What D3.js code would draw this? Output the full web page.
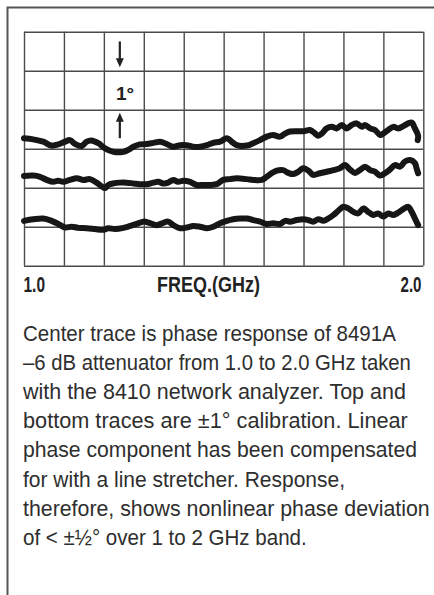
<!DOCTYPE html>
<html>
<head>
<meta charset="utf-8">
<script src="https://cdn.jsdelivr.net/npm/d3@7"></script>
<style>
  html, body { margin: 0; padding: 0; background: #fff; }
  svg { display: block; }
</style>
</head>
<body>
<svg id="chart" width="434" height="595"></svg>
<script>
// ---- data ----
const freqDomain = [1.0, 2.0];          // GHz
const phaseDomain = [0, 6];             // degrees (1 division = 1°)
const xGridTicks = d3.range(0, 11).map(i => 1 + i / 10);
const yGridTicks = d3.range(0, 7);
const xTickLabels = ["1.0", "2.0"];
const xAxisTitle = "FREQ.(GHz)";
const scaleLabel = "1°";

const topFreq = [1.000,1.023,1.048,1.069,1.086,1.103,1.115,1.128,1.144,1.157,1.169,1.186,1.203,1.224,1.249,1.261,1.274,1.290,1.307,1.324,1.341,1.357,1.374,1.391,1.407,1.424,1.441,1.458,1.474,1.491,1.508,1.520,1.533,1.558,1.574,1.591,1.608,1.624,1.641,1.654,1.666,1.683,1.700,1.716,1.729,1.737,1.746,1.758,1.771,1.783,1.796,1.808,1.821,1.833,1.846,1.854,1.867,1.879,1.892,1.900,1.912,1.925,1.937,1.950,1.962,1.971,1.979,1.983,1.987,1.986];
const topPhase = [3.27,3.24,3.18,3.08,3.11,3.18,3.22,3.12,3.07,3.18,3.21,3.14,3.01,2.92,2.92,2.97,3.05,3.11,3.12,3.15,3.18,3.12,3.05,3.09,3.09,3.05,3.05,3.09,3.15,3.18,3.27,3.18,3.09,3.08,3.14,3.22,3.31,3.35,3.31,3.39,3.44,3.45,3.45,3.48,3.39,3.33,3.39,3.52,3.56,3.52,3.61,3.52,3.61,3.65,3.56,3.61,3.52,3.48,3.35,3.39,3.48,3.56,3.52,3.58,3.65,3.67,3.52,3.44,3.33,3.22];

const midFreq = [1.000,1.023,1.040,1.057,1.073,1.086,1.098,1.115,1.132,1.149,1.165,1.182,1.195,1.203,1.211,1.224,1.240,1.257,1.274,1.290,1.307,1.324,1.336,1.349,1.361,1.374,1.386,1.399,1.416,1.432,1.449,1.466,1.482,1.499,1.516,1.533,1.558,1.574,1.595,1.608,1.620,1.633,1.649,1.662,1.674,1.687,1.699,1.712,1.724,1.741,1.758,1.775,1.791,1.804,1.816,1.829,1.841,1.854,1.867,1.879,1.892,1.904,1.917,1.929,1.942,1.954,1.967,1.979,1.983,1.987];
const midPhase = [2.30,2.31,2.28,2.20,2.15,2.18,2.15,2.20,2.24,2.20,2.22,2.13,2.03,1.99,2.07,2.11,2.13,2.13,2.11,2.09,2.09,2.13,2.15,2.11,2.13,2.20,2.15,2.18,2.15,2.07,2.07,2.07,2.09,2.20,2.22,2.24,2.22,2.20,2.20,2.28,2.37,2.44,2.45,2.38,2.35,2.41,2.50,2.44,2.33,2.37,2.41,2.45,2.50,2.58,2.47,2.38,2.45,2.54,2.45,2.41,2.31,2.37,2.47,2.58,2.54,2.67,2.71,2.63,2.50,2.37];

const botFreq = [1.000,1.023,1.048,1.069,1.086,1.103,1.119,1.136,1.157,1.178,1.199,1.211,1.228,1.249,1.266,1.282,1.299,1.316,1.332,1.349,1.361,1.374,1.391,1.407,1.424,1.441,1.458,1.474,1.491,1.508,1.524,1.541,1.558,1.574,1.591,1.608,1.624,1.641,1.654,1.666,1.683,1.700,1.712,1.724,1.737,1.750,1.762,1.775,1.787,1.800,1.812,1.825,1.837,1.850,1.862,1.875,1.887,1.900,1.912,1.925,1.937,1.950,1.962,1.971,1.979,1.987];
const botPhase = [1.15,1.19,1.21,1.15,1.07,0.98,1.00,0.97,0.96,0.94,0.92,0.96,0.94,0.97,1.02,1.07,1.13,1.09,1.04,1.10,1.13,1.04,0.96,0.98,1.02,1.00,0.96,1.00,1.09,1.15,1.19,1.21,1.21,1.17,1.13,1.07,1.09,1.07,1.15,1.13,1.17,1.19,1.17,1.13,1.19,1.15,1.21,1.30,1.41,1.51,1.47,1.38,1.34,1.47,1.38,1.30,1.34,1.26,1.34,1.30,1.36,1.45,1.51,1.38,1.21,1.04];

const captionLines = [
  "Center trace is phase response of 8491A",
  "\u20136 dB attenuator from 1.0 to 2.0 GHz taken",
  "with the 8410 network analyzer. Top and",
  "bottom traces are \u00b11\u00b0 calibration. Linear",
  "phase component has been compensated",
  "for with a line stretcher. Response,",
  "therefore, shows nonlinear phase deviation",
  "of < \u00b1\u00bd\u00b0 over 1 to 2 GHz band."
];

// ---- layout / style (not data) ----
const captionWidths = [373, 388, 383, 385, 394, 322, 407, 284];

// ---- drawing ----
const svg = d3.select("#chart");
const gridColor = "#4a4a4a";
const font = "'Liberation Sans', Arial, sans-serif";

// outer frame (top + left edges)
svg.append("path")
  .attr("d", "M7.5,595 L7.5,7.5 L434,7.5")
  .attr("fill", "none").attr("stroke", "#555").attr("stroke-width", 2);

const x = d3.scaleLinear().domain(freqDomain).range([24, 423.3]);
const y = d3.scaleLinear().domain(phaseDomain).range([265.7, 31.7]);

// grid via axes
const gx = svg.append("g").attr("transform", `translate(0,${y(0)})`)
  .call(d3.axisBottom(x).tickValues(xGridTicks).tickSize(-(y(0) - y(6))).tickFormat(""));
const gy = svg.append("g").attr("transform", `translate(${x(1)},0)`)
  .call(d3.axisLeft(y).tickValues(yGridTicks).tickSize(-(x(2) - x(1))).tickFormat(""));
[gx, gy].forEach(g => {
  g.select(".domain").remove();
  g.selectAll(".tick line").attr("stroke", gridColor).attr("stroke-width", 1.4);
});

// traces
const line = d3.line().x(d => x(d[0])).y(d => y(d[1])).curve(d3.curveCatmullRom.alpha(0.5));
[[topFreq, topPhase], [midFreq, midPhase], [botFreq, botPhase]].forEach(([f, p]) => {
  svg.append("path")
    .datum(f.map((v, i) => [v, p[i]]))
    .attr("d", line)
    .attr("fill", "none")
    .attr("stroke", "#161616")
    .attr("stroke-width", 6)
    .attr("stroke-linecap", "round")
    .attr("stroke-linejoin", "round");
});

// 1° scale marker with arrows
const ax = x(1.24);
function arrow(yFrom, yTip) {
  const dir = yTip > yFrom ? 1 : -1;
  svg.append("line")
    .attr("x1", ax).attr("x2", ax)
    .attr("y1", yFrom).attr("y2", yTip - dir * 7)
    .attr("stroke", "#222").attr("stroke-width", 2.2);
  svg.append("path")
    .attr("d", `M${ax - 4},${yTip - dir * 9} L${ax + 4},${yTip - dir * 9} L${ax},${yTip} Z`)
    .attr("fill", "#222");
}
arrow(y(5.75), y(5.09));
arrow(y(3.27), y(3.92));
svg.append("text")
  .attr("x", x(1.253)).attr("y", y(4.25))
  .attr("text-anchor", "middle")
  .attr("font-family", font)
  .attr("font-weight", "bold").attr("font-size", 19)
  .attr("fill", "#222")
  .text(scaleLabel);

// text squeezed horizontally (via transform) to a target width
function fitted(t, tx, ty, len, opts) {
  const g = svg.append("g");
  const el = g.append("text")
    .attr("x", 0).attr("y", 0)
    .attr("font-family", font)
    .attr("font-size", opts.size)
    .attr("font-weight", opts.weight || "normal")
    .attr("fill", opts.fill || "#222")
    .text(t);
  const w = el.node().getComputedTextLength();
  g.attr("transform", `translate(${tx},${ty}) scale(${len / w},1)`);
  return el;
}
fitted(xTickLabels[0], 23.5, 291.5, 21.5, {size: 22, weight: "bold"});
fitted(xTickLabels[1], 400.5, 291.5, 21, {size: 22, weight: "bold"});
fitted(xAxisTitle, 157, 291.5, 103, {size: 22, weight: "bold"});

// caption
captionLines.forEach((t, i) => {
  fitted(t, 23, 341 + i * 29.1, captionWidths[i], {size: 22, fill: "#2e2e2e"});
});
</script>
</body>
</html>
